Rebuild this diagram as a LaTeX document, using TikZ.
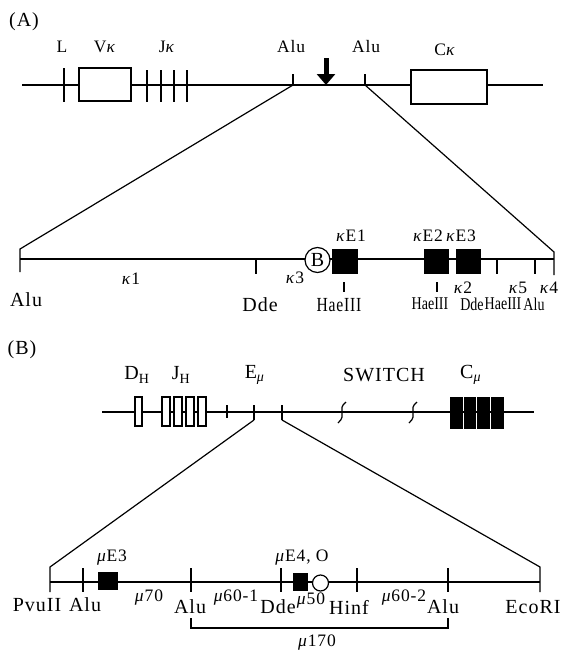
\documentclass[tikz,border=0pt]{standalone}
\usepackage{fontspec}
\setmainfont{Liberation Serif}[LetterSpace=5]
\usetikzlibrary{arrows.meta, positioning}
\newcommand{\condtxt}[1]{\scalebox{0.78}[1]{#1}}

\begin{document}
\begin{tikzpicture}[
    x=1pt, y=-1pt,
    dna/.style={line width=1.2pt},
    openbox/.style={rectangle, draw, fill=white, line width=1.2pt, inner sep=0pt},
    solidbox/.style={rectangle, draw, fill=black, line width=1.2pt, inner sep=0pt},
    sitecirc/.style={circle, draw, fill=white, line width=1.2pt, inner sep=0pt},
    big/.style={font=\fontsize{20}{22}\selectfont, inner sep=0pt},
    mid/.style={font=\fontsize{17.5}{19}\selectfont, inner sep=0pt},
    tiny/.style={font=\fontsize{18}{20}\selectfont\addfontfeature{LetterSpace=0}, inner sep=0pt},
    cutarrow/.style={-{Triangle[length=11pt, width=18pt]}, line width=5pt},
]
\useasboundingbox (0,0) rectangle (568,656);

% (A) kappa locus
\node[big] (pa) at (24,22) {(A)};
\coordinate (ka0) at (22,85);
\coordinate (ka1) at (543,85);
\draw[dna] (ka0) -- (ka1);
\node[openbox, minimum width=52, minimum height=33] (vkbox) at (105,84.5) {};
\node[openbox, minimum width=76, minimum height=34] (ckbox) at (449,87) {};
\draw[dna] (64,68) -- (64,102);
\foreach \x in {147,161,174,187} \draw[dna] (\x,70) -- (\x,102);
\coordinate (alua) at (293,85);
\coordinate (alub) at (365,85);
\draw[dna] (alua) -- ++(0,-11);
\draw[dna] (alub) -- ++(0,-11);
\coordinate (cut) at (326,58);
\coordinate (cutend) at (326,85);
\draw[cutarrow] (cut) -- (cutend);

\node[mid] (l) at (62,47) {L};
\node[mid] (vk) at (105,47) {V\textit{κ}};
\node[mid] (jk) at (167,47) {J\textit{κ}};
\node[mid] (aluatxt) at (291,47) {Alu};
\node[mid] (alubtxt) at (366,47) {Alu};
\node[mid] (ck) at (445,50) {C\textit{κ}};

% enhancer region of (A)
\coordinate (kb0) at (20,259);
\coordinate (kb1) at (554,259);
\coordinate (kbl) at (20,249);
\coordinate (kbr) at (554,252);
\draw[dna] (kb0) -- (kb1);
\draw[dna] (alua) -- (kbl) -- (20,272);
\draw[dna] (alub) -- (kbr) -- (554,275);
\foreach \x in {256,497,535} \draw[dna] (\x,259) -- (\x,274);
\foreach \x in {344,437} \draw[dna] (\x,282) -- (\x,292);
\node[sitecirc, minimum size=25, big] (bsite) at (317.5,260) {B};
\node[solidbox, minimum width=24, minimum height=23] (ke1) at (345,261.5) {};
\node[solidbox, minimum width=23, minimum height=23] (ke2) at (436.5,261.5) {};
\node[solidbox, minimum width=23, minimum height=23] (ke3) at (468.5,261.5) {};

\node[big] (alutxt) at (26,300) {Alu};
\node[mid] (k1) at (131,279) {\textit{κ}1};
\node[big] (ddetxt) at (260,305) {Dde};
\node[mid] (k3) at (295,278) {\textit{κ}3};
\node[mid] (ke1txt) at (351,236) {\textit{κ}E1};
\node[tiny, font=\fontsize{20}{22}\selectfont] (hae1) at (339,305) {\condtxt{HaeIII}};
\node[mid] (ke2txt) at (428,236) {\textit{κ}E2};
\node[mid] (ke3txt) at (461,236) {\textit{κ}E3};
\node[tiny] (hae2) at (430,304) {\condtxt{HaeIII}};
\node[mid] (k2) at (463,288) {\textit{κ}2};
\node[mid] (k5) at (518,288) {\textit{κ}5};
\node[mid] (k4) at (549,288) {\textit{κ}4};
\node[tiny] (dde2) at (472,304) {\condtxt{Dde}};
\node[tiny] (hae3) at (503,304) {\condtxt{HaeIII}};
\node[tiny] (alu2) at (534,304) {\condtxt{Alu}};

% (B) heavy chain locus
\node[big] (pb) at (22,350) {(B)};
\coordinate (h0) at (102,412);
\coordinate (h1) at (534,412);
\draw[dna] (h0) -- (h1);
\node[openbox, minimum width=7, minimum height=29] (dh) at (138.5,411.5) {};
\foreach \x [count=\i] in {166,178,190,202}
  \node[openbox, minimum width=8, minimum height=29] (jh\i) at (\x,411.5) {};
\draw[dna] (227,405) -- (227,418);
\coordinate (ema) at (254,420);
\coordinate (emb) at (282,420);
\draw[dna] (254,405) -- (ema);
\draw[dna] (282,405) -- (emb);
\foreach \x in {342,413}
  \draw[dna] (\x-4,423) .. controls (\x+6,414) and (\x-6,410) .. (\x+4,402);
\foreach \x [count=\i] in {456.5,470,483.5,497.5}
  \node[solidbox, minimum width=11, minimum height=30] (cm\i) at (\x,413) {};

\node[big] (dhtxt) at (137,375) {D\textsubscript{H}};
\node[big] (jhtxt) at (181,375) {J\textsubscript{H}};
\node[big] (emtxt) at (255,375) {E\textsubscript{\textit{μ}}};
\node[big] (switch) at (384,375) {SWITCH};
\node[big] (cmtxt) at (471,375) {C\textsubscript{\textit{μ}}};

% enhancer region of (B)
\coordinate (m0) at (50,582);
\coordinate (m1) at (540,582);
\coordinate (mtl) at (50,567);
\coordinate (mtr) at (540,567);
\draw[dna] (m0) -- (m1);
\draw[dna] (ema) -- (mtl) -- (50,592);
\draw[dna] (emb) -- (mtr) -- (540,592);
\foreach \x in {83,191,281,357,448} \draw[dna] (\x,568) -- (\x,592);
\node[solidbox, minimum width=18, minimum height=16] (me3) at (108,581) {};
\node[solidbox, minimum width=13, minimum height=16] (me4) at (300.5,582) {};
\node[sitecirc, minimum size=16] (octa) at (320.5,583) {};
\coordinate (brl) at (191,618);
\coordinate (brr) at (448,618);
\draw[dna] (brl) -- ++(0,10) -| (brr);

\node[mid] (me3txt) at (112,558) {\textit{μ}E3};
\node[mid] (me4txt) at (302,558) {\textit{μ}E4, O};
\node[big] (pvu) at (37,605) {PvuII};
\node[big] (alu3) at (85,605) {Alu};
\node[mid] (m70) at (149,598) {\textit{μ}70};
\node[big] (alu4) at (190,607) {Alu};
\node[mid] (m601) at (236,598) {\textit{μ}60-1};
\node[big] (dde3) at (278,607) {Dde};
\node[mid] (m50) at (311,601) {\textit{μ}50};
\node[big] (hinf) at (349,607) {Hinf};
\node[mid] (m602) at (404,598) {\textit{μ}60-2};
\node[big] (alu5) at (443,607) {Alu};
\node[big] (eco) at (533,607) {EcoRI};
\node[mid] (m170) at (317,643) {\textit{μ}170};
\end{tikzpicture}
\end{document}
